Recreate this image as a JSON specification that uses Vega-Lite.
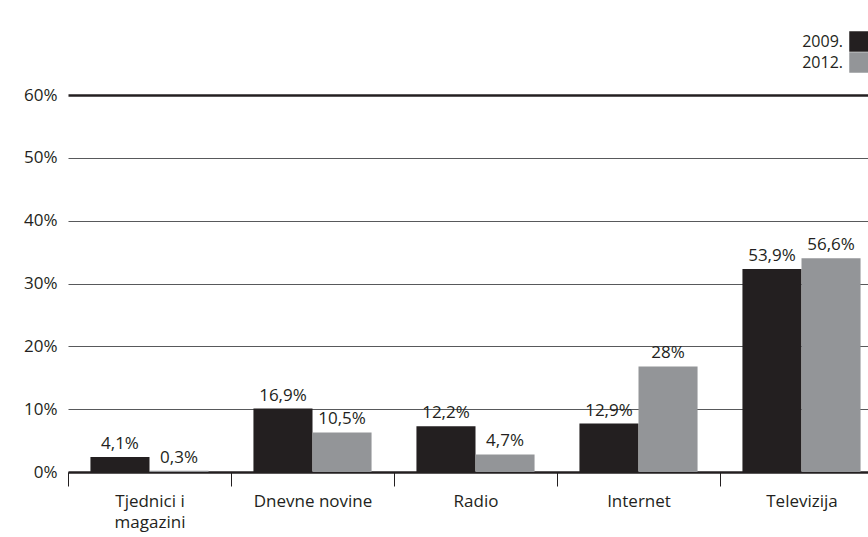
{
  "$schema": "https://vega.github.io/schema/vega-lite/v6.json",
  "autosize": "none",
  "padding": {"left": 68, "top": 95, "right": 0, "bottom": 65},
  "width": 815,
  "height": 377,
  "background": "white",
  "config": {
    "font": "Open Sans",
    "view": {"stroke": null},
    "text": {"font": "Open Sans"}
  },
  "data": {
    "values": [
      {"medij": "Tjednici i magazini", "godina": "2009.", "visina": 2.4, "oznaka": "4,1%"},
      {"medij": "Tjednici i magazini", "godina": "2012.", "visina": 0.2, "oznaka": "0,3%"},
      {"medij": "Dnevne novine", "godina": "2009.", "visina": 10.1, "oznaka": "16,9%"},
      {"medij": "Dnevne novine", "godina": "2012.", "visina": 6.3, "oznaka": "10,5%"},
      {"medij": "Radio", "godina": "2009.", "visina": 7.3, "oznaka": "12,2%"},
      {"medij": "Radio", "godina": "2012.", "visina": 2.8, "oznaka": "4,7%"},
      {"medij": "Internet", "godina": "2009.", "visina": 7.7, "oznaka": "12,9%"},
      {"medij": "Internet", "godina": "2012.", "visina": 16.8, "oznaka": "28%"},
      {"medij": "Televizija", "godina": "2009.", "visina": 32.3, "oznaka": "53,9%"},
      {"medij": "Televizija", "godina": "2012.", "visina": 34.0, "oznaka": "56,6%"}
    ]
  },
  "encoding": {
    "x": {
      "field": "medij",
      "type": "nominal",
      "sort": null,
      "scale": {"paddingInner": 0, "paddingOuter": 0},
      "axis": {
        "title": null,
        "labelAngle": 0,
        "tickBand": "extent",
        "tickSize": 14,
        "tickColor": "#231f20",
        "tickWidth": 1,
        "domainColor": "#231f20",
        "domainWidth": 2.5,
        "labelFont": "Open Sans",
        "labelFontSize": 17,
        "labelColor": "#231f20",
        "labelPadding": 7,
        "labelLineHeight": 21,
        "labelBaseline": "top",
        "labelExpr": "datum.label == 'Tjednici i magazini' ? ['Tjednici i', 'magazini'] : datum.label"
      }
    },
    "xOffset": {
      "field": "godina",
      "type": "nominal",
      "scale": {"paddingOuter": 0.38, "paddingInner": 0}
    },
    "y": {
      "field": "visina",
      "type": "quantitative",
      "scale": {"domain": [0, 60]},
      "axis": {
        "title": null,
        "values": [0, 10, 20, 30, 40, 50, 60],
        "labelExpr": "datum.value + '%'",
        "ticks": false,
        "domain": false,
        "labelPadding": 11,
        "labelFont": "Open Sans",
        "labelFontSize": 17,
        "labelColor": "#231f20",
        "grid": true,
        "gridColor": {"condition": {"test": "datum.value === 60", "value": "#231f20"}, "value": "#58595b"},
        "gridWidth": {"condition": {"test": "datum.value === 60", "value": 2.5}, "value": 1.2}
      }
    }
  },
  "layer": [
    {
      "mark": {"type": "bar", "cornerRadius": 0},
      "encoding": {
        "color": {
          "field": "godina",
          "type": "nominal",
          "scale": {"domain": ["2009.", "2012."], "range": ["#231f20", "#939598"]},
          "legend": {
            "title": null,
            "orient": "none",
            "legendX": 781,
            "legendY": -64,
            "symbolType": "square",
            "symbolSize": 420,
            "symbolStrokeWidth": 0,
            "symbolOpacity": 1,
            "rowPadding": 0,
            "labelAlign": "right",
            "labelOffset": -27,
            "labelFont": "Open Sans",
            "labelFontSize": 16,
            "labelColor": "#231f20",
            "padding": 0
          }
        }
      }
    },
    {
      "mark": {"type": "text", "baseline": "bottom", "dy": -4, "fontSize": 17, "color": "#231f20", "font": "Open Sans"},
      "encoding": {
        "text": {"field": "oznaka", "type": "nominal"}
      }
    }
  ]
}
